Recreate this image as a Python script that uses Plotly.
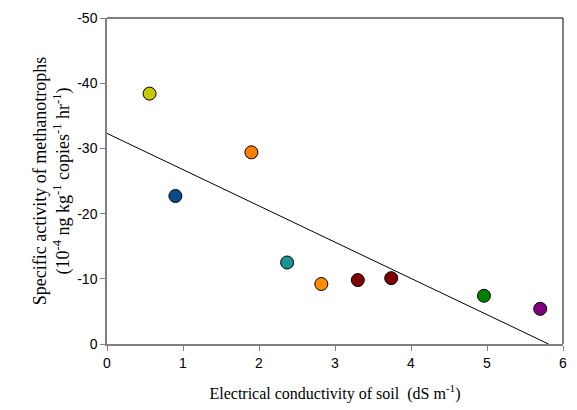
import numpy as np
import plotly.graph_objects as go

# Data
ec = [0.56, 0.90, 1.90, 2.37, 2.82, 3.30, 3.74, 4.96, 5.70]
activity = [-38.4, -22.7, -29.4, -12.5, -9.2, -9.8, -10.1, -7.4, -5.4]
colors = ["#c8c800", "#0b4a8c", "#ff8000", "#1a9494", "#ff8c00",
          "#800000", "#800000", "#008000", "#800080"]

fit_intercept = -32.3
fit_slope = 5.56

x_ticks = [0, 1, 2, 3, 4, 5, 6]
y_ticks = [0, -10, -20, -30, -40, -50]

x_end = -fit_intercept / fit_slope
line_x = np.array([0.0, x_end])
line_y = fit_intercept + fit_slope * line_x

fig = go.Figure()
fig.add_trace(go.Scatter(x=line_x, y=line_y, mode="lines",
                         line=dict(color="black", width=1), showlegend=False,
                         hoverinfo="skip"))
fig.add_trace(go.Scatter(x=ec, y=activity, mode="markers",
                         marker=dict(size=13, color=colors,
                                     line=dict(color="black", width=1)),
                         showlegend=False))

axis_font = dict(family="Liberation Sans, Arial", size=14, color="black")
xtitle_font = dict(family="Liberation Serif, Times New Roman", size=16, color="black")
ytitle_font = dict(family="Liberation Serif, Times New Roman", size=18, color="black")

fig.update_layout(
    width=577, height=410,
    margin=dict(l=107, r=10, t=15, b=64),
    plot_bgcolor="white", paper_bgcolor="white",
    xaxis=dict(range=[0, 6], tickvals=x_ticks, ticktext=[str(v) for v in x_ticks],
               showgrid=False, zeroline=False, showline=True, linecolor="#808080",
               linewidth=1.5, ticks="outside", ticklen=5, tickcolor="#808080",
               tickfont=axis_font,
               title=dict(text="Electrical conductivity of soil  (dS m<sup>-1</sup>)",
                          font=xtitle_font, standoff=18)),
    yaxis=dict(range=[0, -50], tickvals=y_ticks, ticktext=[str(v) for v in y_ticks],
               showgrid=False, zeroline=False, showline=True, linecolor="#808080",
               linewidth=1.5, ticks="outside", ticklen=5, tickcolor="#808080",
               tickfont=axis_font,
               title=dict(text="Specific activity of methanotrophs<br>(10<sup>-4</sup> ng kg<sup>-1</sup> copies<sup>-1</sup> hr<sup>-1</sup>)",
                          font=ytitle_font, standoff=3)),
    shapes=[
        dict(type="line", xref="paper", yref="paper", x0=0, x1=1, y0=1, y1=1,
             line=dict(color="black", width=1)),
        dict(type="line", xref="paper", yref="paper", x0=1, x1=1, y0=0, y1=1,
             line=dict(color="black", width=1)),
    ],
)

fig.write_html("out.html")
